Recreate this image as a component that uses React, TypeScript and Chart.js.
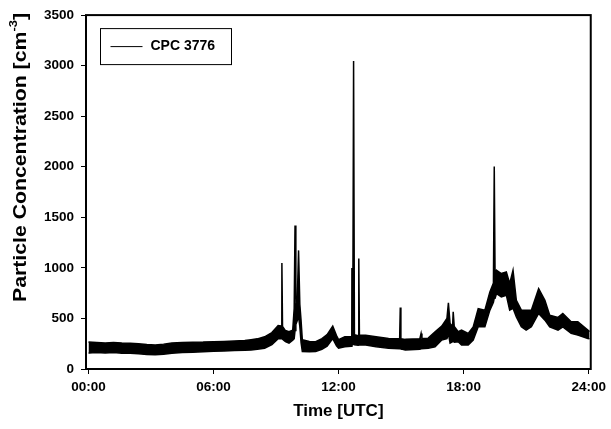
import { useEffect, useRef } from "react";
import { Chart, registerables } from "chart.js";

Chart.register(...registerables);

const seriesLabel = "CPC 3776";

// Time in hours (UTC)
const hours = [
  0.0, 0.4, 0.8, 1.2, 1.6, 2.0, 2.4, 2.8, 3.2, 3.6, 4.0, 4.5, 5.0, 5.5, 6.0, 6.5, 7.0, 7.5, 7.8, 8.1,
  8.45, 8.8, 9.1, 9.25, 9.28, 9.31, 9.45, 9.62, 9.8, 9.87, 9.91, 9.95, 10.02, 10.08, 10.14, 10.2, 10.26,
  10.6, 10.9, 11.2, 11.45, 11.72, 11.9, 12.0, 12.3, 12.6, 12.64, 12.68, 12.72, 12.76, 12.94, 12.97, 13.0,
  13.3, 13.8, 14.4, 14.93, 14.96, 14.99, 15.2, 15.9, 15.96, 16.0, 16.3, 16.63, 16.95, 17.2, 17.27, 17.35,
  17.47, 17.5, 17.55, 17.74, 17.9, 18.22, 18.46, 18.7, 19.02, 19.26, 19.43, 19.47, 19.51, 19.58, 19.81,
  20.05, 20.21, 20.37, 20.53, 20.77, 21.0, 21.25, 21.6, 21.9, 22.13, 22.53, 22.76, 23.16, 23.48, 23.96, 24.04,
];

// Upper edge of the noisy concentration trace [cm^-3]
const upperValues = [
  266, 262, 258, 262, 256, 255, 250, 242, 238, 246, 256, 262, 265, 266, 270, 272, 276, 282, 290, 298,
  318, 360, 430, 425, 1048, 420, 380, 368, 385, 600, 1420, 650, 700, 1173, 640, 480, 290,
  272, 270, 300, 340, 424, 330, 290, 318, 320, 1000, 360, 3047, 340, 330, 1092, 335,
  335, 320, 302, 300, 608, 298, 293, 300, 352, 302, 305, 368, 424, 500, 654, 450,
  420, 565, 420, 368, 385, 352, 417, 598, 582, 762, 850, 2002, 900, 976, 944,
  960, 845, 976, 680, 582, 582, 582, 796, 680, 533, 510, 549, 467, 467, 385, 370,
];

// Lower edge of the noisy concentration trace [cm^-3]
const lowerValues = [
  157, 163, 158, 162, 156, 155, 150, 144, 140, 146, 155, 162, 166, 170, 175, 178, 182, 186, 188, 195,
  205, 240, 300, 300, 300, 295, 270, 256, 286, 300, 380, 440, 480, 520, 420, 260, 172,
  170, 172, 195, 225, 300, 230, 205, 220, 225, 240, 240, 250, 240, 235, 235, 237,
  237, 220, 204, 200, 200, 198, 187, 195, 200, 200, 204, 220, 286, 300, 350, 256,
  270, 280, 265, 269, 237, 237, 286, 417, 417, 582, 660, 700, 700, 746, 713,
  730, 582, 600, 516, 417, 385, 417, 549, 483, 417, 385, 417, 352, 335, 302, 300,
];

const xTickHours = [0, 6, 12, 18, 24];
const xTickLabels = ["00:00", "06:00", "12:00", "18:00", "24:00"];
const yTickValues = [0, 500, 1000, 1500, 2000, 2500, 3000, 3500];

const xTitle = "Time [UTC]";
const yTitleMain = "Particle Concentration [cm";
const yTitleSup = "-3";
const yTitleEnd = "]";

const FONT = '"Liberation Sans", Arial, Helvetica, sans-serif';

const decorPlugin = {
  id: "decor",
  afterDatasetsDraw(chart: any) {
    const { ctx, chartArea: a } = chart;
    ctx.save();
    // frame
    ctx.strokeStyle = "#000";
    ctx.lineWidth = 2;
    ctx.strokeRect(a.left, a.top, a.right - a.left, a.bottom - a.top);

    // legend box
    const bx = a.left + 14.5;
    const by = a.top + 13.5;
    ctx.lineWidth = 1;
    ctx.fillStyle = "#fff";
    ctx.fillRect(bx, by, 131, 36);
    ctx.strokeRect(bx, by, 131, 36);
    ctx.beginPath();
    ctx.moveTo(bx + 10, by + 18);
    ctx.lineTo(bx + 42, by + 18);
    ctx.stroke();
    ctx.fillStyle = "#000";
    ctx.font = `bold 14px ${FONT}`;
    ctx.textAlign = "left";
    ctx.textBaseline = "middle";
    ctx.fillText(seriesLabel, bx + 50, by + 18);

    // x title
    ctx.font = `bold 17px ${FONT}`;
    ctx.textAlign = "center";
    ctx.fillText(xTitle, (a.left + a.right) / 2, 411);

    // y title with superscript
    ctx.textAlign = "left";
    ctx.font = `bold 18px ${FONT}`;
    const w1 = ctx.measureText(yTitleMain).width;
    const w3 = ctx.measureText(yTitleEnd).width;
    ctx.font = `bold 11px ${FONT}`;
    const w2 = ctx.measureText(yTitleSup).width;
    const total = w1 + w2 + w3;
    const targetLen = 289;
    const s = targetLen / total;
    ctx.translate(21, 302);
    ctx.rotate(-Math.PI / 2);
    ctx.scale(s, 1);
    ctx.font = `bold 18px ${FONT}`;
    ctx.fillText(yTitleMain, 0, 0);
    ctx.font = `bold 11px ${FONT}`;
    ctx.fillText(yTitleSup, w1, -7);
    ctx.font = `bold 18px ${FONT}`;
    ctx.fillText(yTitleEnd, w1 + w2, 0);
    ctx.restore();
  },
};

export default function App() {
  const canvasRef = useRef<HTMLCanvasElement | null>(null);

  useEffect(() => {
    const canvas = canvasRef.current;
    if (!canvas) return;
    const upper = hours.map((h, i) => ({ x: h, y: upperValues[i] }));
    const lower = hours.map((h, i) => ({ x: h, y: lowerValues[i] }));

    const chart = new Chart(canvas, {
      type: "line",
      data: {
        datasets: [
          {
            label: seriesLabel,
            data: upper,
            borderColor: "#000",
            borderWidth: 1.5,
            pointRadius: 0,
            tension: 0,
            fill: false,
          },
          {
            label: seriesLabel + " (lower)",
            data: lower,
            borderColor: "#000",
            borderWidth: 1.5,
            backgroundColor: "#000",
            pointRadius: 0,
            tension: 0,
            fill: "-1",
          },
        ],
      },
      options: {
        responsive: false,
        animation: false,
        layout: { padding: { left: 0, right: 18, top: 14, bottom: 0 } },
        plugins: {
          legend: { display: false },
          tooltip: { enabled: false },
        },
        scales: {
          x: {
            type: "linear",
            min: -0.12,
            max: 24.1,
            afterFit: (scale: any) => {
              scale.height = 60;
            },
            afterBuildTicks: (scale: any) => {
              scale.ticks = xTickHours.map((v) => ({ value: v }));
            },
            border: { display: false },
            grid: {
              display: true,
              drawOnChartArea: false,
              drawTicks: true,
              tickLength: 5,
              tickColor: "#000",
              tickWidth: 1,
            },
            ticks: {
              autoSkip: false,
              maxRotation: 0,
              padding: 5,
              color: "#000",
              font: { family: FONT, size: 13.5, weight: "bold" },
              callback: (value: any) => {
                const i = xTickHours.indexOf(Number(value));
                return i >= 0 ? xTickLabels[i] : "";
              },
            },
          },
          y: {
            type: "linear",
            min: 0,
            max: 3500,
            afterFit: (scale: any) => {
              scale.width = 86;
            },
            afterBuildTicks: (scale: any) => {
              scale.ticks = yTickValues.map((v) => ({ value: v }));
            },
            border: { display: false },
            grid: {
              display: true,
              drawOnChartArea: false,
              drawTicks: true,
              tickLength: 5,
              tickColor: "#000",
              tickWidth: 1,
            },
            ticks: {
              padding: 7,
              color: "#000",
              font: { family: FONT, size: 13.5, weight: "bold" },
              callback: (value: any) => String(value),
            },
          },
        },
      },
      plugins: [decorPlugin],
    });

    return () => chart.destroy();
  }, []);

  return (
    <div style={{ position: "absolute", left: 0, top: 0, width: 611, height: 429, background: "#fff" }}>
      <canvas ref={canvasRef} width={611} height={429} style={{ display: "block" }} />
    </div>
  );
}
